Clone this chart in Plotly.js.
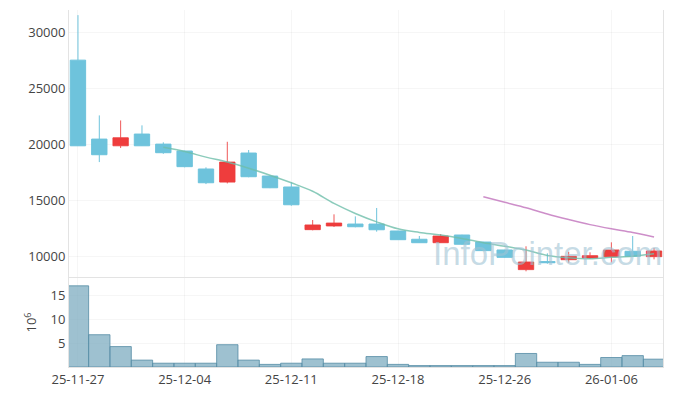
<!DOCTYPE html>
<html>
<head>
<meta charset="utf-8">
<script src="https://cdn.plot.ly/plotly-3.0.1.min.js"></script>
<style>html,body{margin:0;padding:0;background:#fff}#chart{width:673px;height:396px}</style>
</head>
<body>
<div id="chart"></div>
<script>
const dates = ["25-11-27","25-11-28","25-12-01","25-12-02","25-12-03","25-12-04","25-12-05","25-12-08","25-12-09","25-12-10","25-12-11","25-12-12","25-12-15","25-12-16","25-12-17","25-12-18","25-12-19","25-12-22","25-12-23","25-12-24","25-12-26","25-12-29","25-12-30","26-01-02","26-01-05","26-01-06","26-01-07","26-01-08"];
const openP  = [27540,20470,19870,20920,20020,19400,17790,16620,19220,17160,16180,12360,12690,12860,12860,12240,11500,11190,11880,11250,10540, 8780, 9500, 9670, 9820, 9940,10420, 9940];
const highP  = [31570,22590,22140,21700,20180,19420,17940,20230,19490,17200,16600,13220,13730,13550,14300,12260,11790,11970,11900,11270,10560,10870,10240,10380,10330,11225,11790,10720];
const lowP   = [19850,18410,19670,19850,19150,17940,16440,16500,17050,16080,14500,12300,12600,12570,12180,11440,11170,11170,11000,10450, 9850, 8630, 9310, 9400, 9730, 9430, 9910, 9700];
const closeP = [19870,19070,20590,19870,19250,18000,16560,18410,17100,16110,14590,12780,12950,12620,12350,11460,11190,11790,11050,10480, 9880, 9460, 9400, 9970,10030,10540, 9970,10450];
const ma5    = [null,null,null,null,19730,19356,18854,18418,17864,17236,16554,15798,14706,13810,13058,12432,12114,11882,11568,11194,10878,10532,10054, 9838, 9748, 9880, 9982,10192];
const ma20   = [null,null,null,null,null,null,null,null,null,null,null,null,null,null,null,null,null,null,null,15305,14805,14325,13765,13270,12809,12436,12107,11709];
const volume = [17.1,6.8,4.3,1.45,0.8,0.8,0.8,4.7,1.45,0.55,0.8,1.7,0.8,0.8,2.2,0.55,0.3,0.3,0.3,0.3,0.3,2.85,1.0,1.0,0.55,2.0,2.4,1.65];
const xTicks = ["25-11-27","25-12-04","25-12-11","25-12-18","25-12-26","26-01-06"];
const priceTicks = [10000,15000,20000,25000,30000];
const volTicks = [5,10,15];

const gridC = 'rgba(0,0,0,0.035)';
const lineC = '#e3e3e3';
const font = {family:'Open Sans, Noto Sans, sans-serif', size:13, color:'#444'};

const traces = [
  {type:'bar', x:dates, y:volume, xaxis:'x', yaxis:'y2',
   marker:{color:'rgba(125,172,192,0.75)', line:{color:'rgba(85,140,165,0.8)', width:1}},
   hoverinfo:'skip', showlegend:false},
  {type:'candlestick', x:dates, open:openP, high:highP, low:lowP, close:closeP, xaxis:'x', yaxis:'y',
   increasing:{line:{color:'rgba(236,60,60,0.85)', width:1}, fillcolor:'#ef3d3d'},
   decreasing:{line:{color:'#6ec3dc', width:1}, fillcolor:'#6ec3dc'},
   whiskerwidth:0, showlegend:false},
  {type:'scatter', mode:'lines', x:dates, y:ma5, xaxis:'x', yaxis:'y',
   line:{color:'rgba(110,190,170,0.8)', width:1.5, shape:'spline'}, showlegend:false},
  {type:'scatter', mode:'lines', x:dates, y:ma20, xaxis:'x', yaxis:'y',
   line:{color:'rgba(200,130,195,0.9)', width:1.5, shape:'spline'}, showlegend:false}
];

const layout = {
  width:673, height:396,
  margin:{l:69, r:10, t:10, b:29},
  paper_bgcolor:'#fff', plot_bgcolor:'#fff',
  font:font,
  showlegend:false,
  bargap:0,
  boxgap:0.28, boxgroupgap:0,
  xaxis:{type:'category', anchor:'y2', range:[-0.42,27.42], tickvals:xTicks, ticktext:xTicks,
         showgrid:true, gridcolor:gridC, showline:true, linecolor:lineC, mirror:true,
         ticks:'', rangeslider:{visible:false}, tickfont:font, fixedrange:true},
  yaxis:{domain:[0.2493,1], range:[8030,32030], tickvals:priceTicks, tickformat:'d', showgrid:true, gridcolor:gridC,
         showline:true, linecolor:lineC, mirror:true, zeroline:false, ticks:'', tickfont:font},
  yaxis2:{domain:[0,0.2493], range:[0,18.75], tickvals:volTicks, showgrid:true, gridcolor:gridC,
          showline:true, linecolor:lineC, mirror:true, zeroline:false, ticks:'', tickfont:font,
          title:{text:'10<sup>6</sup>', font:font, standoff:10}},
  annotations:[{text:'InfoPointer.com', xref:'paper', yref:'paper', x:0.806, y:0.318,
                xanchor:'center', yanchor:'middle',
                showarrow:false, font:{family:'Liberation Sans, Arial, sans-serif', size:33, color:'rgba(160,195,212,0.6)'}}]
};

Plotly.newPlot('chart', traces, layout, {displayModeBar:false, staticPlot:true});
</script>
</body>
</html>
